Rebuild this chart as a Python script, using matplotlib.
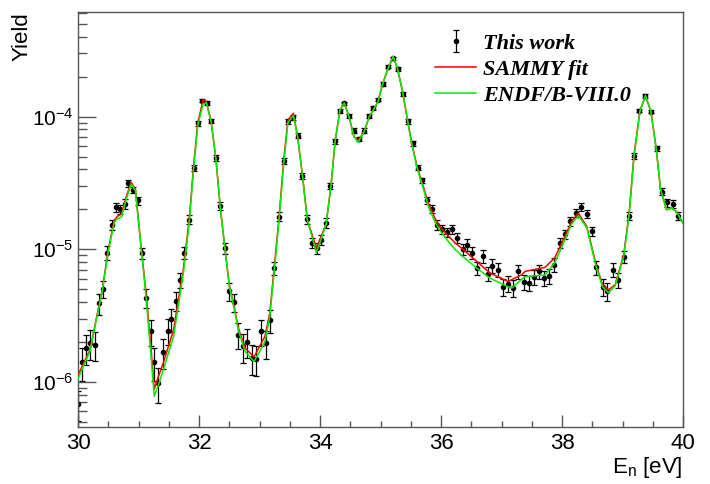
import numpy as np
import matplotlib
matplotlib.use("Agg")
from matplotlib import pyplot as plt
from matplotlib.ticker import MultipleLocator, LogLocator, NullFormatter

# measured yield (This work)
e_data = [30.00, 30.07, 30.13, 30.20, 30.28, 30.34, 30.42, 30.48, 30.56, 30.62,
          30.69, 30.77, 30.83, 30.91, 30.99, 31.05, 31.12, 31.20, 31.26, 31.33,
          31.40, 31.48, 31.54, 31.62, 31.69, 31.76, 31.84, 31.91, 31.98, 32.05,
          32.13, 32.20, 32.28, 32.35, 32.43, 32.50, 32.58, 32.65, 32.72, 32.80,
          32.87, 32.95, 33.02, 33.10, 33.17, 33.24, 33.32, 33.40, 33.47, 33.55,
          33.63, 33.71, 33.79, 33.87, 33.95, 34.01, 34.10, 34.17, 34.25, 34.33,
          34.40, 34.48, 34.56, 34.64, 34.73, 34.81, 34.88, 34.96, 35.04, 35.13,
          35.20, 35.29, 35.37, 35.45, 35.53, 35.62, 35.69, 35.77, 35.85, 35.94,
          36.02, 36.10, 36.19, 36.27, 36.36, 36.43, 36.52, 36.60, 36.69, 36.77,
          36.85, 36.94, 37.02, 37.10, 37.19, 37.28, 37.37, 37.45, 37.54, 37.62,
          37.71, 37.79, 37.87, 37.96, 38.05, 38.14, 38.23, 38.31, 38.41, 38.49,
          38.57, 38.67, 38.75, 38.85, 38.93, 39.02, 39.11, 39.19, 39.28, 39.37,
          39.47, 39.57, 39.65, 39.73, 39.83, 39.92]
y_data = [6.8e-7, 1.4e-6, 1.8e-6, 1.95e-6, 1.9e-6, 3.9e-6, 5.0e-6, 9.4e-6, 1.53e-5, 2.07e-5,
          2.0e-5, 2.2e-5, 3.15e-5, 2.8e-5, 2.33e-5, 9.3e-6, 4.3e-6, 2.4e-6, 1.4e-6, 9.8e-7,
          1.67e-6, 2.43e-6, 2.95e-6, 4.1e-6, 5.9e-6, 9.4e-6, 1.67e-5, 4.08e-5, 8.9e-5, 1.32e-4,
          1.27e-4, 9.3e-5, 4.87e-5, 2.12e-5, 1.02e-5, 4.8e-6, 3.98e-6, 2.26e-6, 1.85e-6, 2.0e-6,
          1.51e-6, 1.49e-6, 2.4e-6, 1.96e-6, 2.9e-6, 7.2e-6, 1.76e-5, 4.64e-5, 9.2e-5, 9.9e-5,
          7.2e-5, 3.57e-5, 1.69e-5, 1.12e-5, 1.02e-5, 1.18e-5, 1.58e-5, 3.0e-5, 6.5e-5, 1.10e-4,
          1.26e-4, 1.01e-4, 7.85e-5, 6.76e-5, 7.85e-5, 1.01e-4, 1.16e-4, 1.34e-4, 1.76e-4, 2.38e-4,
          2.75e-4, 2.28e-4, 1.48e-4, 9.2e-5, 6.3e-5, 4.13e-5, 3.3e-5, 2.35e-5, 2.01e-5, 1.53e-5,
          1.42e-5, 1.34e-5, 1.42e-5, 1.22e-5, 1.0e-5, 1.08e-5, 9.4e-6, 7.2e-6, 8.9e-6, 6.5e-6,
          7.5e-6, 7.0e-6, 5.2e-6, 5.5e-6, 5.1e-6, 6.8e-6, 5.7e-6, 5.6e-6, 6.2e-6, 6.8e-6,
          6.05e-6, 6.3e-6, 7.6e-6, 1.12e-5, 1.3e-5, 1.62e-5, 1.87e-5, 2.07e-5, 1.85e-5, 1.36e-5,
          7.3e-6, 5.2e-6, 4.8e-6, 7.0e-6, 5.9e-6, 8.8e-6, 1.79e-5, 5.06e-5, 1.11e-4, 1.43e-4,
          1.09e-4, 5.78e-5, 2.72e-5, 2.25e-5, 2.2e-5, 1.79e-5]
# relative uncertainty of each point, percent
err_pct = [25, 28, 25, 25, 25, 18, 15, 12, 9, 8,
           8, 8, 6, 6, 7, 10, 16, 22, 28, 30,
           25, 22, 20, 16, 13, 10, 8, 5, 4, 3,
           3, 4, 5, 7, 10, 15, 16, 22, 25, 24,
           26, 26, 22, 24, 20, 12, 8, 5, 4, 4,
           4, 5, 8, 9, 10, 9, 8, 6, 4, 3,
           3, 3, 4, 4, 4, 3, 3, 3, 3, 3,
           3, 3, 3, 4, 4, 5, 5, 6, 7, 8,
           8, 8, 8, 9, 10, 10, 11, 12, 11, 12,
           12, 12, 14, 14, 14, 12, 13, 13, 13, 12,
           13, 13, 12, 9, 8, 8, 7, 7, 7, 8,
           12, 14, 15, 12, 13, 11, 7, 5, 3, 3,
           3, 4, 6, 7, 7, 7]

# curves
e_curve = [30.00, 30.10, 30.20, 30.30, 30.40, 30.50, 30.60, 30.65, 30.72, 30.80,
           30.88, 30.95, 31.02, 31.12, 31.20, 31.26, 31.33, 31.41, 31.58, 31.74,
           31.84, 31.91, 31.98, 32.07, 32.12, 32.20, 32.28, 32.35, 32.43, 32.50,
           32.58, 32.65, 32.76, 32.91, 33.09, 33.17, 33.25, 33.32, 33.40, 33.47,
           33.56, 33.63, 33.71, 33.79, 33.94, 34.10, 34.18, 34.25, 34.33, 34.40,
           34.48, 34.56, 34.63, 34.73, 34.81, 34.88, 34.96, 35.03, 35.12, 35.21,
           35.28, 35.37, 35.45, 35.52, 35.61, 35.69, 35.79, 35.90, 36.00, 36.15,
           36.23, 36.36, 36.59, 36.81, 37.11, 37.17, 37.33, 37.39, 37.72, 37.88,
           38.05, 38.16, 38.27, 38.41, 38.49, 38.57, 38.67, 38.77, 38.88, 39.02,
           39.11, 39.19, 39.29, 39.38, 39.47, 39.56, 39.63, 39.73, 39.81, 39.89,
           40.00]
y_sammy = [1.12e-6, 1.4e-6, 1.75e-6, 2.95e-6, 4.9e-6, 9.9e-6, 1.65e-5, 1.77e-5, 1.85e-5, 2.5e-5,
           3.2e-5, 2.8e-5, 1.32e-5, 4.9e-6, 1.96e-6, 8.8e-7, 1.1e-6, 1.39e-6, 2.47e-6, 7.0e-6,
           1.7e-5, 4.2e-5, 9.0e-5, 1.34e-4, 1.3e-4, 9.2e-5, 4.8e-5, 2.1e-5, 1.0e-5, 5.4e-6,
           3.7e-6, 2.54e-6, 1.8e-6, 1.54e-6, 2.2e-6, 3.3e-6, 7.85e-6, 1.67e-5, 4.7e-5, 9.4e-5,
           1.06e-4, 7.06e-5, 3.6e-5, 1.67e-5, 1.02e-5, 1.53e-5, 2.97e-5, 6.5e-5, 1.12e-4, 1.27e-4,
           1.0e-4, 7.06e-5, 6.6e-5, 7.7e-5, 9.9e-5, 1.12e-4, 1.3e-4, 1.73e-4, 2.28e-4, 2.8e-4,
           2.32e-4, 1.5e-4, 9.2e-5, 6.2e-5, 4.1e-5, 3.15e-5, 2.22e-5, 1.71e-5, 1.44e-5, 1.22e-5,
           1.12e-5, 1.0e-5, 8.1e-6, 6.6e-6, 5.7e-6, 5.9e-6, 6.4e-6, 6.8e-6, 7.3e-6, 8.6e-6,
           1.25e-5, 1.62e-5, 1.87e-5, 1.48e-5, 1.05e-5, 7.4e-6, 5.4e-6, 4.94e-6, 5.4e-6, 9.1e-6,
           1.87e-5, 5.14e-5, 1.12e-4, 1.43e-4, 1.09e-4, 5.6e-5, 2.8e-5, 1.98e-5, 2.04e-5, 1.93e-5,
           1.57e-5]
y_endf = [1.05e-6, 1.35e-6, 1.7e-6, 2.9e-6, 4.8e-6, 9.6e-6, 1.6e-5, 1.7e-5, 1.75e-5, 2.4e-5,
          3.1e-5, 2.75e-5, 1.3e-5, 4.6e-6, 1.7e-6, 7.8e-7, 9.5e-7, 1.23e-6, 2.2e-6, 6.5e-6,
          1.6e-5, 4.0e-5, 8.6e-5, 1.25e-4, 1.27e-4, 9.2e-5, 4.8e-5, 2.1e-5, 1.0e-5, 5.3e-6,
          3.6e-6, 2.45e-6, 1.7e-6, 1.42e-6, 2.0e-6, 3.1e-6, 7.3e-6, 1.6e-5, 4.4e-5, 9.0e-5,
          1.02e-4, 7.06e-5, 3.6e-5, 1.67e-5, 9.4e-6, 1.53e-5, 2.97e-5, 6.5e-5, 1.12e-4, 1.27e-4,
          1.0e-4, 7.06e-5, 6.4e-5, 7.7e-5, 9.9e-5, 1.12e-4, 1.3e-4, 1.73e-4, 2.28e-4, 2.85e-4,
          2.32e-4, 1.5e-4, 9.2e-5, 6.1e-5, 4.0e-5, 3.05e-5, 2.1e-5, 1.6e-5, 1.35e-5, 1.1e-5,
          1.0e-5, 8.8e-6, 7.2e-6, 6.05e-6, 5.2e-6, 5.1e-6, 5.9e-6, 6.2e-6, 6.4e-6, 7.9e-6,
          1.18e-5, 1.55e-5, 1.79e-5, 1.45e-5, 1.02e-5, 7.2e-6, 5.2e-6, 4.7e-6, 5.3e-6, 8.8e-6,
          1.8e-5, 5.0e-5, 1.1e-4, 1.45e-4, 1.09e-4, 5.6e-5, 2.8e-5, 1.98e-5, 2.04e-5, 1.93e-5,
          1.57e-5]

plt.rcParams['font.family'] = ['Liberation Sans', 'DejaVu Sans']
plt.rcParams['mathtext.fontset'] = 'custom'
plt.rcParams['mathtext.rm'] = 'Liberation Sans'
plt.rcParams['mathtext.it'] = 'Liberation Sans:italic'

fig = plt.figure(figsize=(7.1, 4.84), dpi=100)
ax = fig.add_axes([78 / 710, 1 - 427 / 484, 605 / 710, 415 / 484])

y = np.array(y_data)
yerr = y * np.array(err_pct) / 100.0
h_data = ax.errorbar(e_data, y, yerr=yerr, fmt='o', ms=3.0, color='black',
                     ecolor='black', elinewidth=0.9, capsize=2.2, capthick=0.9, zorder=2)
h_red, = ax.plot(e_curve, y_sammy, color='#ff0000', lw=1.1, zorder=3)
h_green, = ax.plot(e_curve, y_endf, color='#00ee00', lw=1.1, zorder=4)

ax.set_yscale('log')
ax.set_xlim(30, 40)
ax.set_ylim(4.56e-7, 6.15e-4)

ax.xaxis.set_major_locator(MultipleLocator(2))
ax.xaxis.set_minor_locator(MultipleLocator(0.5))
ax.yaxis.set_major_locator(LogLocator(base=10))
ax.yaxis.set_minor_locator(LogLocator(base=10, subs=np.arange(2, 10)))
ax.yaxis.set_minor_formatter(NullFormatter())

frame = '#555555'
for s in ax.spines.values():
    s.set_color(frame)
    s.set_linewidth(1.0)
ax.tick_params(axis='x', which='major', direction='in', length=8.5, width=1, color=frame,
               labelsize=16, pad=4, top=False)
ax.tick_params(axis='x', which='minor', direction='in', length=4, width=1, color=frame, top=False)
ax.tick_params(axis='y', which='major', direction='in', length=13, width=1, color=frame,
               labelsize=15, pad=3, right=False)
ax.tick_params(axis='y', which='minor', direction='in', length=6.3, width=1, color=frame, right=False)

fig.text(22 / 710, 1 - 12 / 484, 'Yield', rotation=90, ha='center', va='top', fontsize=16)
fig.text(683 / 710, 1 - 468 / 484, r'E$_\mathregular{n}$ [eV]', ha='right', va='center', fontsize=16)

leg = ax.legend([h_data, h_red, h_green], ['This work', 'SAMMY fit', 'ENDF/B-VIII.0'],
                loc='upper left', bbox_to_anchor=(435 / 710, 1 - 33 / 484),
                bbox_transform=fig.transFigure, frameon=False, borderpad=0, borderaxespad=0,
                handlelength=1.85, handletextpad=0.3, labelspacing=0.25,
                prop={'family': 'Liberation Serif', 'weight': 'bold', 'style': 'italic', 'size': 16})

fig.savefig('out.png', dpi=100)
